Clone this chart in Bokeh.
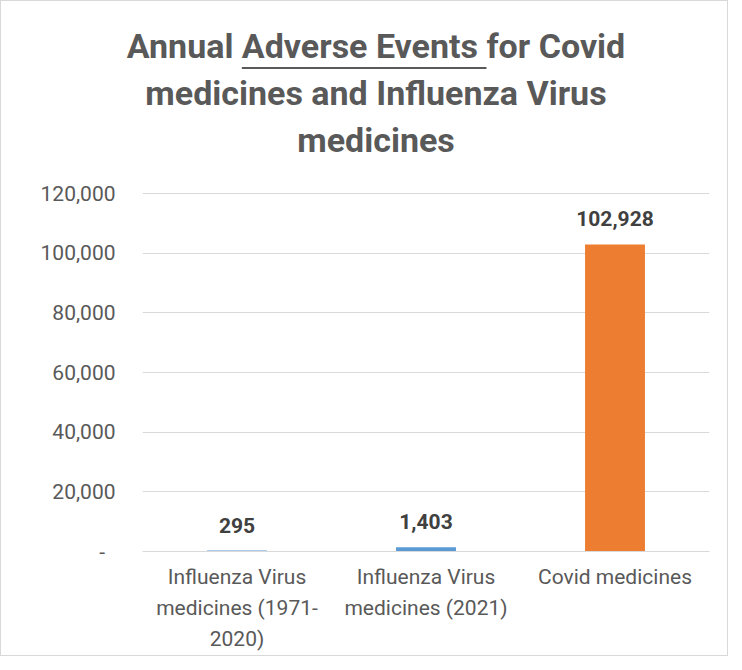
from bokeh.plotting import figure
from bokeh.models import Range1d, CustomJSTickFormatter, ColumnDataSource, Div
from bokeh.layouts import column
from bokeh.core.properties import value
from bokeh.embed import file_html
from bokeh.resources import INLINE

categories = ["Influenza Virus\nmedicines (1971-\n2020)", "Influenza Virus\nmedicines (2021)", "Covid medicines"]
values = [295, 1403, 102928]
value_labels = ["295", "1,403", "102,928"]
bar_colors = ["#5B9BD5", "#5B9BD5", "#ED7D31"]
y_ticks = [0, 20000, 40000, 60000, 80000, 100000, 120000]
y_max = 120000
title_before = "Annual "
title_underlined = "Adverse Events "
title_after = ["for Covid", "medicines and Influenza Virus", "medicines"]

FONT = "Roboto"
TXT = "#595959"
GRID = "#D9D9D9"

W, H = 726, 654
TITLE_H = 180

title_html = (
    "<div style='margin-left:24px; width:702px; padding-top:22px; text-align:center; "
    "line-height:47px; white-space:pre-wrap;'>"
    f"{title_before}<span style='text-decoration: underline; text-decoration-thickness: 2px; "
    f"text-underline-offset: 9px;'>{title_underlined}</span>{title_after[0]}<br>"
    f"{title_after[1]}<br>{title_after[2]}</div>"
)
t = Div(text=title_html, width=W, height=TITLE_H, margin=0,
        styles={"font-family": FONT, "font-weight": "bold", "font-size": "34px", "color": TXT,
                "overflow": "hidden"})

# ---- chart ----
CH = H - TITLE_H
LEFT, FRAME_RIGHT = 141, 708
FRAME_TOP = 184 - TITLE_H
FRAME_BOTTOM = 550 - TITLE_H
AXIS_TOP_PX = 192 - TITLE_H
RIGHT, BOTTOM = W - FRAME_RIGHT, CH - FRAME_BOTTOM
px_per_unit = (FRAME_BOTTOM - AXIS_TOP_PX) / y_max
range_top = (FRAME_BOTTOM - FRAME_TOP) / px_per_unit

p = figure(x_range=categories, y_range=Range1d(0, range_top), width=W, height=CH,
           output_backend="svg", toolbar_location=None,
           min_border_left=LEFT, min_border_right=RIGHT, min_border_top=FRAME_TOP, min_border_bottom=BOTTOM)
p.outline_line_color = None

src = ColumnDataSource(dict(x=categories, top=values, color=bar_colors, label=value_labels))
p.vbar(x="x", top="top", width=0.317, fill_color="color", line_color=None, source=src)
p.text(x="x", y="top", text="label", source=src, text_align="center", text_baseline="bottom",
       y_offset=-18, text_font=value(FONT), text_font_style="bold", text_font_size="21px",
       text_color="#404040")

p.yaxis.ticker = y_ticks
p.yaxis.formatter = CustomJSTickFormatter(code="return tick == 0 ? '-\u00a0\u00a0' : tick.toLocaleString('en-US');")
p.yaxis.axis_line_color = None
p.yaxis.major_tick_line_color = None
p.yaxis.minor_tick_line_color = None
p.yaxis.major_tick_out = 0
p.yaxis.major_tick_in = 0
p.yaxis.major_label_standoff = 27
p.yaxis.major_label_text_font = FONT
p.yaxis.major_label_text_font_size = "21px"
p.yaxis.major_label_text_color = TXT

p.xaxis.axis_line_color = GRID
p.xaxis.major_tick_line_color = None
p.xaxis.major_tick_out = 0
p.xaxis.major_tick_in = 0
p.xaxis.major_label_text_font = FONT
p.xaxis.major_label_text_font_size = "21px"
p.xaxis.major_label_text_color = TXT
p.xaxis.major_label_standoff = 13
p.xaxis.major_label_text_line_height = 1.3

p.xgrid.grid_line_color = None
p.ygrid.grid_line_color = GRID
p.ygrid.grid_line_width = 1

layout = column(t, p, spacing=0)
layout.styles = {"border": "1px solid #D9D9D9", "box-sizing": "border-box"}

open("out.html", "w").write(file_html(layout, INLINE))
